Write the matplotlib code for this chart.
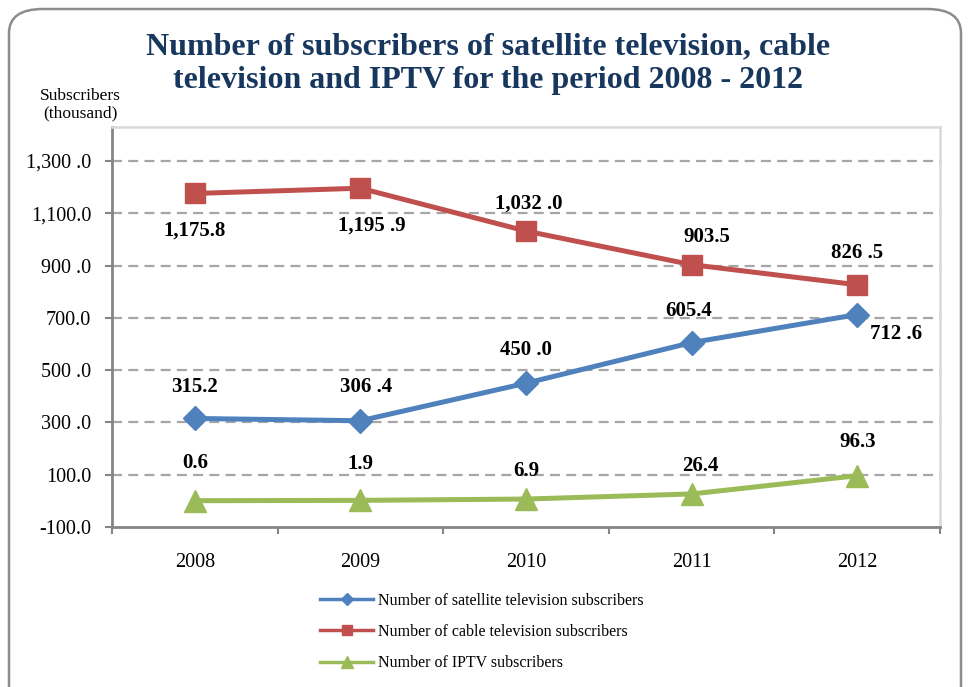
import matplotlib.pyplot as plt
import numpy as np
from matplotlib.patches import FancyBboxPatch

plt.rcParams['font.family'] = ['Liberation Serif', 'DejaVu Serif']

# subscribers, thousand
years = ['2008', '2009', '2010', '2011', '2012']
satellite = [315.2, 306.4, 450.0, 605.4, 712.6]
cable = [1175.8, 1195.9, 1032.0, 903.5, 826.5]
iptv = [0.6, 1.9, 6.9, 26.4, 96.3]

satellite_labels = ['315.2', '306 .4', '450 .0', '605.4', '712 .6']
cable_labels = ['1,175.8', '1,195 .9', '1,032 .0', '903.5', '826 .5']
iptv_labels = ['0.6', '1.9', '6.9', '26.4', '96.3']

ytick_vals = [-100, 100, 300, 500, 700, 900, 1100, 1300]
ytick_text = ['-100.0', '100.0', '300 .0', '500 .0', '700.0', '900 .0', '1,100.0', '1,300 .0']

legend_names = ['Number of satellite television subscribers',
                'Number of cable television subscribers',
                'Number of IPTV subscribers']

blue = '#4F81BD'
red = '#C0504D'
green = '#9BBB59'
navy = '#17375E'

fig = plt.figure(figsize=(9.7, 6.87), dpi=100)

# rounded frame around the whole chart
frame = FancyBboxPatch((9 / 970, -0.05), 952 / 970, 1.0 - 9 / 687 + 0.05,
                       boxstyle='round,pad=0,rounding_size=0.035',
                       transform=fig.transFigure, facecolor='none',
                       edgecolor='#8C8C8C', linewidth=1.8, zorder=-1)
fig.patches.append(frame)

ax = fig.add_axes([112 / 970, 1 - 527 / 687, 828 / 970, 400 / 687])
x = np.arange(len(years))

ax.set_xlim(-0.5, len(years) - 0.5)
ax.set_ylim(-100, 1430)

ax.set_yticks(ytick_vals)
ax.set_yticklabels(ytick_text, fontsize=14.5)
for v in ytick_vals[1:]:
    ax.axhline(v, color='#A6A6A6', lw=1.6, ls=(0, (4.5, 2.8)), zorder=1)

ax.set_xticks(x)
ax.set_xticklabels(years, fontsize=14.5)
ax.set_xticks(np.arange(-0.5, len(years)), minor=True)
ax.tick_params(axis='x', which='major', length=0, pad=19)
ax.tick_params(axis='x', which='minor', length=5, width=1.5, color='#868686', direction='out')
ax.tick_params(axis='y', length=5, width=1.5, color='#868686', direction='out', pad=10)

for side in ['top', 'right']:
    ax.spines[side].set_color('#D9D9D9')
    ax.spines[side].set_linewidth(1.8)
for side in ['left', 'bottom']:
    ax.spines[side].set_color('#868686')
    ax.spines[side].set_linewidth(2)

ax.plot(x, satellite, color=blue, lw=3.6, marker='D', ms=12.5, zorder=3,
        label=legend_names[0])
ax.plot(x, cable, color=red, lw=3.6, marker='s', ms=14, zorder=3,
        label=legend_names[1])
ax.plot(x, iptv, color=green, lw=3.6, marker='^', ms=16, zorder=3,
        label=legend_names[2])

# data labels: offsets in points from each marker
sat_off = [(0, 23), (4, 24), (0, 24), (-2, 23), (28, -14)]
cab_off = [(0, -27), (8, -27), (2, 20), (11, 20), (0, 23)]
ipt_off = [(0, 27), (0, 26), (0, 20), (6, 20), (0, 24)]
for vals, labels, offs in [(satellite, satellite_labels, sat_off),
                           (cable, cable_labels, cab_off),
                           (iptv, iptv_labels, ipt_off)]:
    for xi, v, t, o in zip(x, vals, labels, offs):
        ax.annotate(t, (xi, v), xytext=o, textcoords='offset points',
                    ha='center', va='center', fontsize=15, fontweight='bold')

fig.text(488 / 970, 1 - 64 / 687,
         'Number of subscribers of satellite television, cable\ntelevision and IPTV for the period 2008 - 2012',
         ha='center', va='center', fontsize=23, fontweight='bold', color=navy,
         linespacing=1.2)
fig.text(80 / 970, 1 - 105 / 687, 'Subscribers\n(thousand)', ha='center', va='center',
         fontsize=12.5, linespacing=1.1)

leg = fig.legend(loc='center', bbox_to_anchor=(482 / 970, 1 - 632 / 687),
                 frameon=False, fontsize=11.5, handlelength=3.3, labelspacing=0.95,
                 handletextpad=0.3, markerscale=0.5)
for line in leg.get_lines():
    line.set_linewidth(2.5)

fig.savefig('out.png', dpi=100)
